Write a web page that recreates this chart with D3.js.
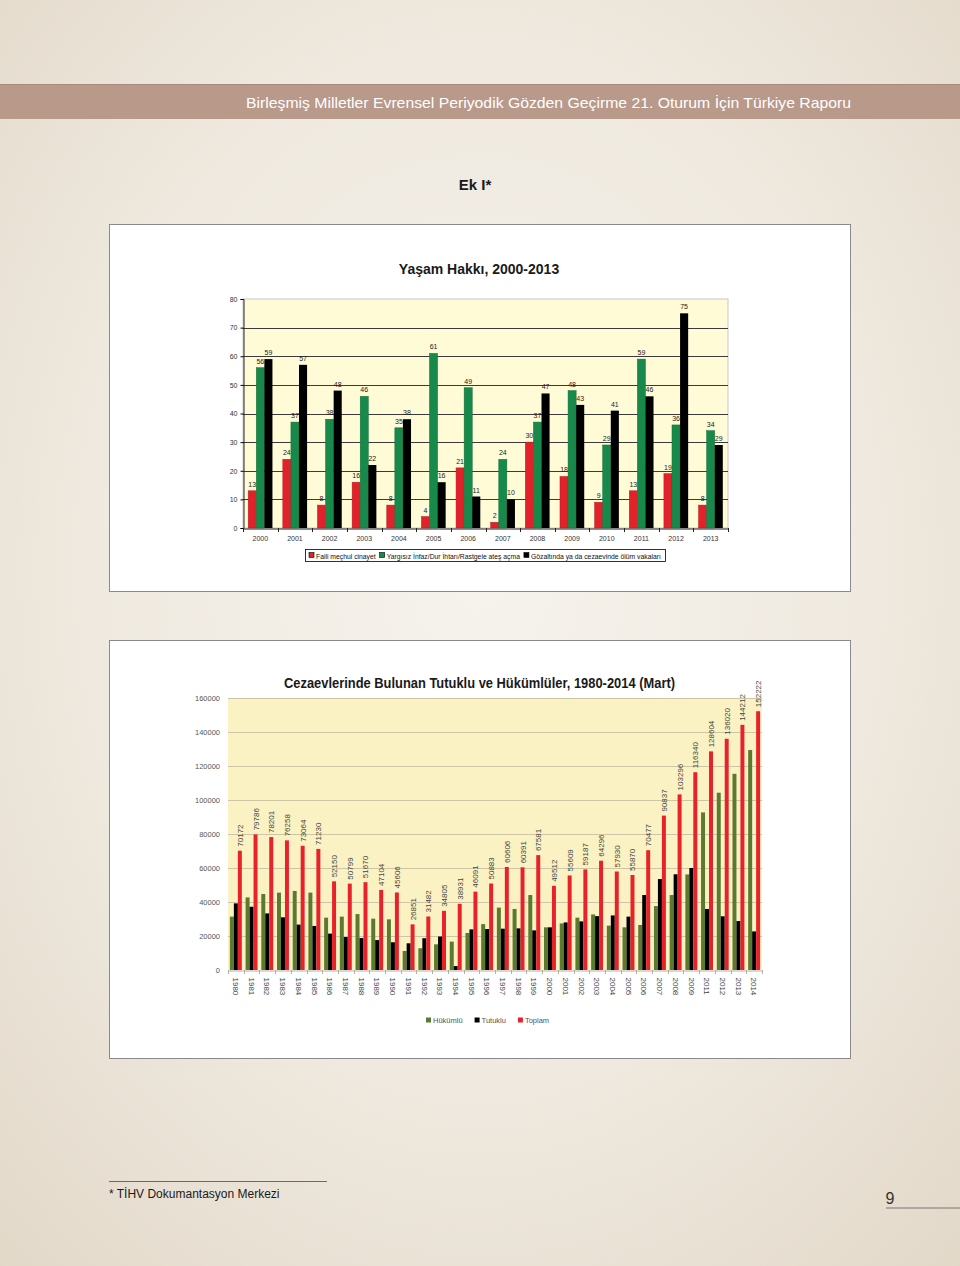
<!DOCTYPE html>
<html>
<head>
<meta charset="utf-8">
<style>
  body { margin: 0; padding: 0; }
  svg { display: block; }
  .hdr { font-family: "Liberation Sans", Arial, sans-serif; }
  .t1 text { font-family: "Liberation Sans", Arial, sans-serif; }
  .t2 text { font-family: "Liberation Sans", Arial, sans-serif; }
</style>
</head>
<body>
<script src="https://d3js.org/d3.v7.min.js"></script>
<script>
// ---- chart 1 data: Yasam Hakki, 2000-2013
var years1 = ["2000","2001","2002","2003","2004","2005","2006","2007","2008","2009","2010","2011","2012","2013"];
var failiMechul = [13, 24, 8, 16, 8, 4, 21, 2, 30, 18, 9, 13, 19, 8];
var yargisizInfaz = [56, 37, 38, 46, 35, 61, 49, 24, 37, 48, 29, 59, 36, 34];
var gozaltiOlum = [59, 57, 48, 22, 38, 16, 11, 10, 47, 43, 41, 46, 75, 29];
var series1 = ["Faili meçhul cinayet", "Yargısız İnfaz/Dur İhtarı/Rastgele ateş açma", "Gözaltında ya da cezaevinde ölüm vakaları"];
var ticks1 = [0, 10, 20, 30, 40, 50, 60, 70, 80];

// ---- chart 2 data: Cezaevlerinde tutuklu ve hukumlu, 1980-2014 (no 2010 in source)
var years2 = ["1980","1981","1982","1983","1984","1985","1986","1987","1988","1989","1990","1991","1992","1993","1994","1995","1996","1997","1998","1999","2000","2001","2002","2003","2004","2005","2006","2007","2008","2009","2011","2012","2013","2014"];
var hukumlu = [31400, 42700, 44700, 45500, 46500, 45500, 30800, 31400, 32900, 30200, 29800, 11200, 12800, 15100, 16700, 21800, 27000, 36700, 35900, 44100, 25100, 27400, 30800, 32700, 26100, 25100, 26500, 37600, 44100, 56200, 92700, 104300, 115400, 129400];
var tutuklu = [39200, 37200, 33300, 31000, 26700, 25900, 21400, 19400, 18800, 17600, 16300, 15700, 18700, 19700, 2300, 23900, 24100, 24300, 24500, 23300, 25100, 28000, 28600, 31700, 32100, 31400, 44100, 53500, 56300, 60000, 35900, 31600, 28800, 22700];
var toplam = [70172, 79786, 78201, 76258, 73064, 71230, 52150, 50799, 51670, 47104, 45606, 26851, 31482, 34805, 38931, 46091, 50883, 60606, 60391, 67581, 49512, 55609, 59187, 64296, 57930, 55870, 70477, 90837, 103296, 116340, 128604, 136020, 144212, 152222];
var series2 = ["Hükümlü", "Tutuklu", "Toplam"];
var ticks2 = [0, 20000, 40000, 60000, 80000, 100000, 120000, 140000, 160000];

var W = 960, H = 1266;
var svg = d3.select("body").append("svg")
    .attr("width", W)
    .attr("height", H);

// page background
var defs = svg.append("defs");
var rg = defs.append("radialGradient").attr("id", "pagebg")
    .attr("cx", "50%").attr("cy", "45%").attr("r", "75%");
rg.append("stop").attr("offset", "0%").attr("stop-color", "#f6f3ed");
rg.append("stop").attr("offset", "55%").attr("stop-color", "#efe9df");
rg.append("stop").attr("offset", "100%").attr("stop-color", "#e2d8c8");
svg.append("rect").attr("width", W).attr("height", H).attr("fill", "url(#pagebg)");

// header band
svg.append("rect").attr("x", 0).attr("y", 84).attr("width", W).attr("height", 35).attr("fill", "#b8998a");
svg.append("line").attr("x1", 0).attr("x2", W).attr("y1", 84.5).attr("y2", 84.5).attr("stroke", "#a88a7a");
svg.append("text").attr("class", "hdr")
    .attr("x", 851).attr("y", 108)
    .attr("text-anchor", "end")
    .attr("font-size", 15)
    .attr("fill", "#ffffff")
    .attr("textLength", 605).attr("lengthAdjust", "spacingAndGlyphs")
    .text("Birleşmiş Milletler Evrensel Periyodik Gözden Geçirme 21. Oturum İçin Türkiye Raporu");

svg.append("text").attr("class", "hdr")
    .attr("x", 475).attr("y", 190)
    .attr("text-anchor", "middle")
    .attr("font-size", 15).attr("font-weight", "bold")
    .attr("fill", "#1a1a1a")
    .text("Ek I*");

// ================= chart 1 =================
var c1 = svg.append("g").attr("class", "t1");
c1.append("rect").attr("x", 109.5).attr("y", 224.5).attr("width", 741).attr("height", 367)
    .attr("fill", "#ffffff").attr("stroke", "#8a8a8a");

c1.append("text").attr("x", 479).attr("y", 274)
    .attr("text-anchor", "middle").attr("font-size", 14).attr("font-weight", "bold")
    .attr("fill", "#1a1a1a")
    .text("Yaşam Hakkı, 2000-2013");

var p1 = { left: 243, right: 728, top: 299, bottom: 528 };
var x1 = d3.scaleBand().domain(years1).range([p1.left, p1.right]).paddingInner(0.3).paddingOuter(0.15);
var xs1 = d3.scaleBand().domain([0, 1, 2]).range([0, x1.bandwidth()]);
var y1 = d3.scaleLinear().domain([0, 80]).range([p1.bottom, p1.top]);

c1.append("rect").attr("x", p1.left).attr("y", p1.top)
    .attr("width", p1.right - p1.left).attr("height", p1.bottom - p1.top)
    .attr("fill", "#fffbd6").attr("stroke", "#c8c8c8");

c1.append("g").selectAll("line").data(ticks1.slice(1, -1)).join("line")
    .attr("x1", p1.left).attr("x2", p1.right)
    .attr("y1", function(d) { return Math.round(y1(d)) + 0.5; })
    .attr("y2", function(d) { return Math.round(y1(d)) + 0.5; })
    .attr("stroke", "#3a3a3a");

var ax1 = c1.append("g").attr("transform", "translate(" + (p1.left + 0.5) + ",0)")
    .call(d3.axisLeft(y1).tickValues(ticks1).tickSize(3).tickPadding(3));
ax1.selectAll("text").attr("font-size", 7).attr("fill", "#333");
ax1.select(".domain").attr("stroke", "#222");

var ax1b = c1.append("g").attr("transform", "translate(0," + (p1.bottom + 0.5) + ")")
    .call(d3.axisBottom(x1).tickSize(0).tickPadding(8));
ax1b.selectAll("text").attr("font-size", 7).attr("fill", "#333");
ax1b.select(".domain").attr("stroke", "#222");
// boundary ticks between groups
c1.append("g").selectAll("line").data(years1.concat(["end"])).join("line")
    .attr("x1", function(d, i) { return Math.round(p1.left + i * x1.step()) + 0.5; })
    .attr("x2", function(d, i) { return Math.round(p1.left + i * x1.step()) + 0.5; })
    .attr("y1", p1.bottom).attr("y2", p1.bottom + 4)
    .attr("stroke", "#222");

var colors1 = ["#e2222a", "#17894a", "#000000"];
var data1 = [failiMechul, yargisizInfaz, gozaltiOlum];
data1.forEach(function(vals, s) {
    var g = c1.append("g");
    g.selectAll("rect").data(vals).join("rect")
        .attr("x", function(d, i) { return x1(years1[i]) + xs1(s); })
        .attr("y", function(d) { return y1(d); })
        .attr("width", xs1.bandwidth())
        .attr("height", function(d) { return y1(0) - y1(d); })
        .attr("fill", colors1[s])
        .attr("stroke", s == 2 ? "none" : d3.color(colors1[s]).darker(0.6))
        .attr("stroke-width", 0.5);
    g.selectAll("text").data(vals).join("text")
        .attr("x", function(d, i) { return x1(years1[i]) + xs1(s) + xs1.bandwidth() / 2; })
        .attr("y", function(d) { return y1(d) - 4; })
        .attr("text-anchor", "middle")
        .attr("font-size", 7).attr("fill", "#222")
        .text(function(d) { return d; });
});

// legend chart 1
var lg1 = c1.append("g");
var lx = 309;
series1.forEach(function(name, s) {
    lg1.append("rect").attr("x", lx).attr("y", 552.5).attr("width", 5).attr("height", 5)
        .attr("fill", colors1[s]).attr("stroke", "#000").attr("stroke-width", 0.6);
    var t = lg1.append("text").attr("x", lx + 7).attr("y", 558.5)
        .attr("font-size", 6.8).attr("fill", "#111").text(name);
    lx += 7 + t.node().getComputedTextLength() + 4;
});
lg1.insert("rect", ":first-child").attr("x", 305.5).attr("y", 549.5)
    .attr("width", lx - 305).attr("height", 12)
    .attr("fill", "#ffffff").attr("stroke", "#000").attr("stroke-width", 0.8);

// ================= chart 2 =================
var c2 = svg.append("g").attr("class", "t2");
c2.append("rect").attr("x", 109.5).attr("y", 640.5).attr("width", 741).attr("height", 418)
    .attr("fill", "#ffffff").attr("stroke", "#8a8a8a");

c2.append("text").attr("x", 479.5).attr("y", 688)
    .attr("text-anchor", "middle").attr("font-size", 14).attr("font-weight", "bold")
    .attr("fill", "#1a1a1a")
    .attr("textLength", 391).attr("lengthAdjust", "spacingAndGlyphs")
    .text("Cezaevlerinde Bulunan Tutuklu ve Hükümlüler, 1980-2014 (Mart)");

var p2 = { left: 228, right: 762, top: 698, bottom: 970 };
var x2 = d3.scaleBand().domain(years2).range([p2.left, p2.right]).paddingInner(0.24).paddingOuter(0.12);
var xs2 = d3.scaleBand().domain([0, 1, 2]).range([0, x2.bandwidth()]);
var y2 = d3.scaleLinear().domain([0, 160000]).range([p2.bottom, p2.top]);

c2.append("rect").attr("x", p2.left).attr("y", p2.top)
    .attr("width", p2.right - p2.left).attr("height", p2.bottom - p2.top)
    .attr("fill", "#fbf2c3");

c2.append("g").selectAll("line").data(ticks2.slice(1)).join("line")
    .attr("x1", p2.left).attr("x2", p2.right)
    .attr("y1", function(d) { return Math.round(y2(d)) + 0.5; })
    .attr("y2", function(d) { return Math.round(y2(d)) + 0.5; })
    .attr("stroke", "#cdc6a6");

var ax2 = c2.append("g").attr("transform", "translate(" + p2.left + ",0)")
    .call(d3.axisLeft(y2).tickValues(ticks2).tickFormat(d3.format("d")).tickSize(0).tickPadding(8));
ax2.selectAll("text").attr("font-size", 7.5).attr("fill", "#555");
ax2.select(".domain").remove();

var ax2b = c2.append("g").attr("transform", "translate(0," + (p2.bottom + 0.5) + ")")
    .call(d3.axisBottom(x2).tickSize(0));
ax2b.select(".domain").attr("stroke", "#b5b0a0");
ax2b.selectAll("text")
    .attr("font-size", 8).attr("fill", "#444")
    .attr("transform", "rotate(90)")
    .attr("x", 7).attr("y", 0).attr("dy", "0.35em")
    .attr("text-anchor", "start");
c2.append("g").selectAll("line").data(years2.concat(["end"])).join("line")
    .attr("x1", function(d, i) { return Math.round(p2.left + i * x2.step()) + 0.5; })
    .attr("x2", function(d, i) { return Math.round(p2.left + i * x2.step()) + 0.5; })
    .attr("y1", p2.bottom).attr("y2", p2.bottom + 4)
    .attr("stroke", "#b5b0a0");

var colors2 = ["#5b7a2f", "#000000", "#e8222a"];
var data2 = [hukumlu, tutuklu, toplam];
data2.forEach(function(vals, s) {
    c2.append("g").selectAll("rect").data(vals).join("rect")
        .attr("x", function(d, i) { return x2(years2[i]) + xs2(s); })
        .attr("y", function(d) { return y2(d); })
        .attr("width", xs2.bandwidth())
        .attr("height", function(d) { return y2(0) - y2(d); })
        .attr("fill", colors2[s]);
});

// rotated value labels over the Toplam bars
c2.append("g").selectAll("text").data(toplam).join("text")
    .attr("transform", function(d, i) {
        var cx = x2(years2[i]) + xs2(2) + xs2.bandwidth() / 2;
        return "translate(" + (cx + 3) + "," + (y2(d) - 4) + ") rotate(-90)";
    })
    .attr("font-size", 8).attr("fill", "#444")
    .text(function(d) { return d; });

// legend chart 2
var lg2 = c2.append("g");
var lx2 = 426;
series2.forEach(function(name, s) {
    lg2.append("rect").attr("x", lx2).attr("y", 1017.5).attr("width", 5).attr("height", 5)
        .attr("fill", colors2[s]);
    var t = lg2.append("text").attr("x", lx2 + 7).attr("y", 1023)
        .attr("font-size", 7.5).attr("fill", "#555").text(name);
    lx2 += 7 + t.node().getComputedTextLength() + 12;
});

// footer
svg.append("line").attr("x1", 109).attr("x2", 327).attr("y1", 1181.5).attr("y2", 1181.5)
    .attr("stroke", "#6a6a6a").attr("stroke-width", 1);
svg.append("text").attr("class", "hdr")
    .attr("x", 109).attr("y", 1198)
    .attr("font-size", 12).attr("fill", "#1a1a1a")
    .text("*  TİHV Dokumantasyon Merkezi");
svg.append("text").attr("class", "hdr")
    .attr("x", 890).attr("y", 1204)
    .attr("text-anchor", "middle")
    .attr("font-size", 16).attr("fill", "#333")
    .text("9");
svg.append("line").attr("x1", 886).attr("x2", 960).attr("y1", 1208).attr("y2", 1208)
    .attr("stroke", "#777").attr("stroke-width", 1.2);
</script>
</body>
</html>
